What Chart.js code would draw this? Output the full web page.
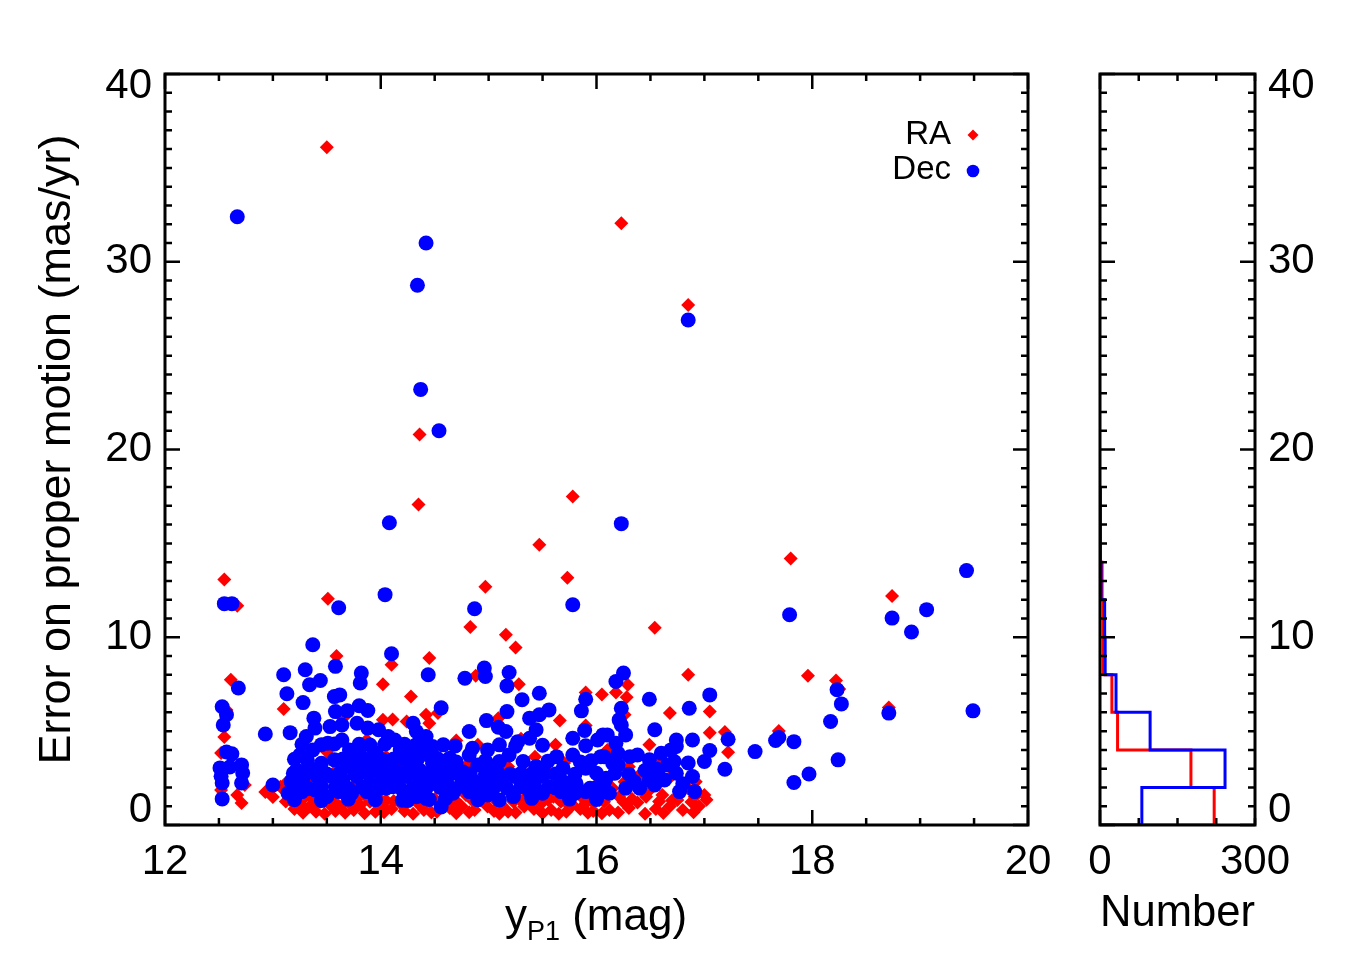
<!DOCTYPE html>
<html>
<head>
<meta charset="utf-8">
<script src="https://cdn.jsdelivr.net/npm/chart.js@4.4.0/dist/chart.umd.min.js"></script>
<style>
  body { margin: 0; background: #fff; width: 1350px; height: 975px; position: relative; overflow: hidden;
         font-family: 'Liberation Sans', Arial, sans-serif; }
  #main { position: absolute; left: 0; top: 0; }
  #hist { position: absolute; left: 1060px; top: 0; }
  #xtitle { position: absolute; left: 396px; width: 400px; top: 889px; text-align: center;
            font-size: 44px; line-height: 52px; color: #000; }
  #xtitle sub { font-size: 27px; vertical-align: baseline; position: relative; top: 10px; }
</style>
</head>
<body>
<canvas id="main" width="1090" height="975"></canvas>
<canvas id="hist" width="290" height="975"></canvas>
<div id="xtitle">y<sub>P1</sub> (mag)</div>
<script>
// RA errors vs y_P1 magnitude (red diamonds)
const raMag = [
  13.50, 16.23, 16.85, 14.36, 14.35, 15.78, 15.47, 15.73, 17.80, 12.55,
  13.51, 14.97, 18.74, 12.67, 14.83, 15.16, 15.25, 16.54, 13.59, 14.10,
  14.45, 14.02, 16.85, 17.96, 18.22, 18.25, 12.61, 18.71, 17.69, 17.19,
  17.22, 17.05, 16.68, 17.05, 16.29, 16.18, 16.05, 16.28, 15.90, 14.88,
  15.28, 15.09, 15.66, 15.90, 15.62, 15.55, 16.49, 16.40, 16.26, 16.26,
  14.28, 13.10, 14.02, 14.11, 14.24, 14.42, 14.45, 14.53, 12.55, 12.52,
  12.52, 12.74, 12.67, 12.71, 12.57, 12.93, 13.00, 13.13, 13.07, 14.02,
  13.96, 14.05, 13.87, 13.65, 15.55, 15.18, 15.43, 14.90, 13.16, 13.25,
  13.34, 13.44, 13.53, 13.62, 13.71, 13.81, 13.90, 13.98, 14.18, 14.27,
  14.36, 14.45, 14.58, 14.69, 14.79, 14.87, 14.99, 15.12, 15.23, 15.33,
  15.35, 15.49, 15.67, 15.78, 15.86, 15.90, 16.03, 16.07, 16.15, 16.21,
  16.46, 16.61, 16.75, 16.91, 17.00, 16.69, 16.92, 13.20, 13.40, 13.58,
  13.75, 13.95, 14.10, 14.22, 14.40, 14.52, 14.64, 14.75, 14.93, 15.05,
  15.18, 15.28, 15.42, 15.58, 15.72, 15.85, 15.97, 16.12, 16.30, 16.38,
  16.55, 16.68, 16.80, 16.95, 13.30, 13.50, 13.68, 13.85, 14.05, 14.33,
  14.60, 15.00, 15.60, 16.00, 16.50, 16.85, 13.35, 13.60, 13.90, 14.20,
  14.50, 14.80, 15.10, 15.40, 15.70, 16.00, 16.30, 16.60, 13.50, 14.00,
  14.70, 15.30, 16.10, 13.25, 13.75, 14.35, 14.95, 15.55, 16.45, 13.28,
  13.48, 13.67, 13.85, 14.03, 14.30, 14.47, 14.70, 14.82, 15.10, 15.25,
  15.50, 15.65, 15.92, 16.05, 16.20, 16.45, 16.62, 16.90, 13.12, 13.38,
  13.58, 13.77, 14.12, 14.50, 14.65, 14.85, 15.05, 15.40, 15.55, 15.72,
  15.95, 16.25, 16.33, 16.58, 16.70, 16.88, 17.02
];
const raErr = [
  36.10, 32.05, 27.70, 20.80, 17.07, 17.50, 14.93, 13.17, 14.19, 13.07,
  12.05, 12.69, 12.20, 11.68, 10.54, 10.13,  9.45, 10.50,  9.00,  8.53,
   8.89,  7.50,  8.00,  7.95,  7.70,  7.24,  7.73,  6.26,  5.01,  4.95,
   3.88,  6.04,  5.96,  4.92,  7.47,  7.06,  6.95,  6.80,  7.06,  7.95,
   7.50,  5.69,  5.56,  5.30,  4.27,  2.80,  4.27,  2.67,  2.31,  5.87,
   6.84,  6.18,  5.60,  5.62,  5.51,  5.87,  5.42,  5.97,  4.69,  3.84,
   1.87,  2.13,  1.60,  1.17,  6.13,  1.76,  1.49,  2.29,  2.04,  0.98,
   2.40,  3.64,  4.53,  5.69,  3.38,  3.11,  3.64,  4.27,  1.33,  1.16,
   0.98,  1.24,  1.07,  0.98,  1.16,  1.07,  1.24,  1.45,  1.16,  1.33,
   1.07,  1.24,  1.16,  1.33,  1.60,  0.80,  0.98,  1.07,  1.24,  0.98,
   1.51,  1.16,  1.24,  1.07,  1.51,  1.16,  1.33,  1.24,  1.96,  1.51,
   1.51,  1.60,  1.33,  1.51,  1.60,  2.58,  2.31,  0.85,  0.70,  0.75,
   0.80,  0.70,  0.85,  0.75,  0.80,  0.70,  0.90,  1.00,  1.30,  0.75,
   0.70,  1.40,  0.85,  0.80,  0.70,  0.85,  0.75,  0.80,  0.90,  1.20,
   0.85,  1.00,  0.80,  1.00,  1.50,  1.60,  1.45,  1.60,  1.30,  1.60,
   1.55,  1.55,  1.50,  1.70,  1.90,  1.95,  2.60,  3.00,  2.80,  3.30,
   2.70,  3.20,  2.50,  2.90,  3.30,  2.60,  3.10,  3.50,  3.90,  4.20,
   4.50,  4.60,  4.00,  2.20,  2.10,  2.20,  2.10,  2.20,  2.30,  0.65,
   0.60,  0.65,  0.62,  0.68,  0.60,  0.66,  0.62,  0.68,  0.60,  0.66,
   0.62,  0.60,  0.65,  0.62,  0.66,  0.60,  0.64,  0.68,  1.25,  1.30,
   1.20,  1.35,  1.28,  1.38,  1.22,  1.30,  1.40,  1.25,  1.35,  1.20,
   1.30,  1.22,  1.38,  1.25,  1.30,  1.22,  1.35
];

// Dec errors vs y_P1 magnitude (blue circles)
const decMag = [
  12.67, 14.42, 14.34, 16.85, 14.37, 14.54, 14.08, 16.23, 19.43, 14.04,
  13.61, 12.55, 12.62, 14.87, 15.78, 17.79, 18.74, 18.92, 19.06, 13.37,
  14.10, 13.58, 13.10, 13.30, 13.34, 13.44, 13.82, 13.81, 14.44, 13.13,
  13.28, 13.57, 13.62, 12.93, 13.16, 13.00, 13.58, 13.69, 13.80, 13.88,
  13.38, 12.68, 12.53, 12.57, 12.54, 12.57, 12.62, 12.71, 12.72, 12.51,
  12.60, 12.53, 12.71, 12.53, 12.52, 14.56, 14.56, 13.31, 13.39, 13.53,
  13.64, 13.78, 13.88, 13.98, 14.07, 14.13, 14.30, 14.33, 14.42, 14.39,
  14.48, 13.25, 13.37, 13.51, 13.64, 13.71, 13.81, 13.96, 14.18, 14.28,
  14.44, 13.22, 13.33, 13.45, 13.57, 13.70, 13.82, 13.94, 14.05, 14.15,
  14.27, 14.36, 14.48, 13.17, 13.28, 13.42, 13.54, 13.65, 13.78, 13.90,
  14.01, 14.11, 14.24, 14.36, 14.48, 13.14, 13.27, 13.39, 13.50, 13.61,
  13.73, 13.87, 13.99, 14.11, 14.21, 14.33, 14.42, 13.95, 14.25, 14.78,
  14.96, 14.97, 15.19, 15.17, 15.47, 15.31, 15.90, 15.86, 15.17, 15.38,
  15.47, 15.56, 14.98, 14.82, 15.09, 15.16, 15.38, 15.44, 15.89, 15.78,
  16.01, 16.06, 15.27, 14.58, 14.69, 14.85, 14.99, 15.10, 15.19, 14.52,
  14.64, 14.82, 15.63, 15.78, 16.04, 15.32, 15.44, 14.52, 14.64, 14.76,
  14.90, 15.03, 15.69, 15.90, 16.00, 14.49, 14.61, 14.75, 14.87, 15.01,
  15.12, 15.24, 15.35, 15.47, 15.56, 15.69, 15.81, 15.94, 16.07, 14.67,
  14.82, 14.99, 15.10, 15.23, 15.38, 15.50, 15.67, 15.80, 15.90, 16.03,
  16.25, 16.18, 16.49, 16.86, 17.05, 16.23, 16.21, 16.54, 16.10, 16.27,
  16.74, 16.89, 17.22, 17.05, 17.00, 17.19, 16.07, 16.20, 16.31, 16.38,
  16.49, 16.60, 16.69, 16.74, 16.66, 16.72, 16.74, 16.57, 16.63, 16.49,
  16.54, 16.27, 16.40, 16.09, 16.17, 16.06, 16.12, 16.77, 16.91, 16.89,
  16.23, 16.18, 16.15, 18.23, 18.27, 18.17, 18.71, 19.49, 17.47, 17.66,
  17.69, 17.83, 18.24, 17.83, 17.97, 13.20, 13.45, 13.70, 14.20, 14.45,
  13.22, 13.33, 13.45, 13.58, 13.70, 13.83, 13.95, 14.05, 14.17, 14.30,
  14.42, 13.19, 13.30, 13.40, 13.50, 13.62, 13.76, 13.88, 14.00, 14.10,
  14.21, 14.32, 14.43, 13.20, 13.32, 13.65, 13.77, 13.89, 14.02, 14.12,
  14.22, 14.34, 13.27, 13.45, 13.57, 13.80, 13.90, 14.04, 14.22, 14.33,
  14.60, 14.90, 15.40, 15.75, 16.00, 14.55, 14.70, 14.93, 15.05, 15.17,
  15.30, 15.43, 15.62, 15.75, 16.00, 14.58, 14.70, 14.83, 14.97, 15.09,
  15.20, 15.30, 15.40, 15.52, 15.62, 15.80, 14.58, 14.70, 14.97, 15.10,
  15.55, 15.85, 15.95, 15.25, 15.50, 15.90, 16.35, 16.45, 16.30, 16.80,
  16.55, 16.85, 16.20
];
const decErr = [
  32.40, 31.00, 28.75, 26.90, 23.20, 21.00, 16.10, 16.05, 13.55, 12.27,
  11.57, 11.79, 11.79, 11.52, 11.73, 11.20, 11.02, 10.28, 11.47,  9.60,
   9.12,  8.45,  8.00,  8.27,  7.47,  7.70,  8.09,  7.56,  8.00,  6.99,
   6.52,  6.84,  6.93,  4.85,  4.92,  2.13,  6.04,  6.08,  6.35,  6.10,
   5.69,  7.30,  6.30,  5.87,  5.33,  3.89,  3.79,  3.20,  2.77,  3.04,
   3.09,  2.24,  2.24,  1.39,  2.60,  6.24,  0.96,  4.71,  5.16,  5.24,
   5.33,  5.42,  5.16,  5.07,  4.71,  4.53,  5.42,  4.98,  4.71,  4.18,
   4.18,  3.73,  4.00,  4.36,  4.53,  4.00,  3.73,  3.82,  4.00,  4.00,
   3.73,  2.93,  3.11,  3.29,  3.47,  3.11,  3.20,  3.02,  3.11,  2.84,
   3.02,  2.93,  3.29,  2.31,  2.40,  2.49,  2.58,  2.40,  2.58,  2.22,
   2.40,  2.49,  2.58,  2.22,  2.40,  1.69,  1.78,  1.87,  1.51,  1.78,
   1.69,  1.78,  1.96,  2.04,  1.78,  1.51,  1.42,  1.35,  1.30,  7.82,
   8.36,  7.91,  8.12,  7.41,  7.02,  6.67,  6.70,  6.08,  6.04,  5.69,
   5.87,  6.13,  5.56,  4.98,  5.21,  4.98,  4.62,  5.07,  5.03,  4.62,
   4.53,  4.80,  4.44,  4.27,  4.21,  4.09,  4.00,  4.27,  3.73,  3.56,
   3.56,  3.73,  3.64,  3.73,  3.64,  3.38,  3.11,  2.84,  3.02,  2.84,
   3.20,  3.11,  3.02,  3.02,  2.76,  2.22,  2.31,  2.22,  2.31,  2.49,
   2.40,  2.58,  2.31,  2.58,  2.04,  2.31,  2.22,  1.96,  2.22,  1.69,
   1.78,  1.60,  1.33,  1.51,  1.78,  1.69,  1.78,  1.69,  1.78,  1.69,
   8.09,  7.64,  6.70,  6.22,  6.93,  6.22,  5.60,  5.07,  4.80,  4.80,
   4.53,  4.53,  4.57,  3.97,  3.38,  2.97,  3.64,  3.82,  3.64,  3.73,
   3.47,  3.82,  4.00,  4.18,  3.20,  3.38,  2.76,  2.76,  2.40,  2.40,
   2.13,  1.96,  1.96,  2.49,  2.76,  1.87,  1.69,  1.78,  1.78,  2.58,
   5.33,  4.36,  3.29,  7.20,  6.45,  5.51,  5.96,  6.08,  3.91,  4.50,
   4.66,  4.44,  3.47,  2.26,  2.72,  1.35,  1.30,  1.38,  1.32,  1.36,
   2.00,  1.95,  2.05,  2.00,  1.95,  2.02,  2.00,  1.96,  2.04,  2.00,
   1.95,  2.75,  2.70,  2.78,  2.72,  2.75,  2.70,  2.78,  2.72,  2.75,
   2.70,  2.76,  2.72,  3.50,  3.45,  3.52,  3.48,  3.50,  3.46,  3.52,
   3.48,  3.50,  4.30,  4.28,  4.32,  4.30,  4.26,  4.32,  4.30,  4.28,
   1.40,  1.35,  1.42,  1.38,  1.36,  2.00,  1.95,  2.02,  2.00,  1.96,
   2.04,  2.00,  1.98,  2.02,  2.00,  2.70,  2.75,  2.72,  2.70,  2.76,
   2.72,  2.74,  2.70,  2.76,  2.72,  2.70,  3.40,  3.35,  3.42,  3.38,
   3.40,  3.36,  3.42,  4.20,  4.25,  4.22,  2.30,  2.90,  2.70,  2.20,
   3.00,  3.30,  3.20
];

// histogram of the errors (bins of 2 mas/yr)
const binEdges = [0, 2, 4, 6, 8, 10, 12, 14, 16, 18];
const raCounts = [221, 176, 34, 23, 6, 6, 4, 1, 1];
const decCounts = [81, 242, 97, 31, 10, 9, 2, 1, 1];

const RED = '#ff0000';
const BLUE = '#0000ff';
Chart.defaults.font.family = "'Liberation Sans', Arial, sans-serif";
Chart.defaults.color = '#000';

function toPoints(xs, ys) {
  return xs.map((x, i) => ({ x: x, y: ys[i] }));
}

// IDL style histogram outline
function stepLine(edges, counts) {
  const pts = [{ x: 0, y: edges[0] }];
  counts.forEach((c, i) => {
    pts.push({ x: c, y: edges[i] });
    pts.push({ x: c, y: edges[i + 1] });
  });
  pts.push({ x: 0, y: edges[edges.length - 1] });
  return pts;
}

function tickMarks(min, max, step, majorStep) {
  const out = [];
  const n = Math.round((max - min) / step);
  for (let i = 0; i <= n; i++) {
    const v = min + i * step;
    const r = v / majorStep;
    out.push([v, Math.abs(r - Math.round(r)) < 1e-6]);
  }
  return out;
}

// box with inward ticks on all four sides
const boxPlugin = {
  id: 'idlBox',
  afterDraw(chart, args, opts) {
    const { ctx, chartArea: a, scales } = chart;
    const x = scales.x, y = scales.y;
    ctx.save();
    ctx.strokeStyle = '#000';
    ctx.lineWidth = 2.5;
    ctx.beginPath();
    opts.xTicks.forEach(([v, major]) => {
      const px = x.getPixelForValue(v);
      const len = major ? opts.majorLen : opts.minorLen;
      ctx.moveTo(px, a.bottom); ctx.lineTo(px, a.bottom - len);
      ctx.moveTo(px, a.top); ctx.lineTo(px, a.top + len);
    });
    opts.yTicks.forEach(([v, major]) => {
      const py = y.getPixelForValue(v);
      const len = major ? opts.majorLen : opts.minorLen;
      ctx.moveTo(a.left, py); ctx.lineTo(a.left + len, py);
      ctx.moveTo(a.right, py); ctx.lineTo(a.right - len, py);
    });
    ctx.stroke();
    ctx.lineWidth = 3;
    ctx.strokeRect(a.left, a.top, a.right - a.left, a.bottom - a.top);
    ctx.restore();
  }
};

// keep the end labels of the y axis inside the box, like IDL does
const endLabelPlugin = {
  id: 'endLabels',
  beforeDraw(chart) {
    const items = chart.scales.y.getLabelItems();
    if (!items.length || items[0].shifted) return;
    items[0].shifted = true;
    items[0].options.translation[1] -= 15;
    items[items.length - 1].options.translation[1] += 12;
  }
};

// legend in the upper right corner, text left of the symbol
const legendPlugin = {
  id: 'innerLegend',
  afterDraw(chart) {
    const { ctx, chartArea: a } = chart;
    const mx = a.right - 55;
    ctx.save();
    ctx.font = "33px 'Liberation Sans', Arial, sans-serif";
    ctx.fillStyle = '#000';
    ctx.textAlign = 'right';
    ctx.textBaseline = 'middle';
    ctx.fillText('RA', a.right - 77, a.top + 61);
    ctx.fillText('Dec', a.right - 77, a.top + 96);
    ctx.fillStyle = RED;
    const r = 5.5, cy = a.top + 61;
    ctx.beginPath();
    ctx.moveTo(mx - r, cy); ctx.lineTo(mx, cy - r); ctx.lineTo(mx + r, cy); ctx.lineTo(mx, cy + r);
    ctx.closePath(); ctx.fill();
    ctx.fillStyle = BLUE;
    ctx.beginPath();
    ctx.arc(mx, a.top + 97, 6.3, 0, Math.PI * 2);
    ctx.fill();
    ctx.restore();
  }
};

const tickFont = { size: 42 };

new Chart(document.getElementById('main').getContext('2d'), {
  type: 'scatter',
  data: {
    datasets: [{
      label: 'RA',
      data: toPoints(raMag, raErr),
      pointStyle: 'rectRot',
      pointRadius: 7,
      pointBorderWidth: 0,
      backgroundColor: RED,
      borderColor: RED,
      order: 1
    }, {
      label: 'Dec',
      data: toPoints(decMag, decErr),
      pointStyle: 'circle',
      pointRadius: 7.5,
      pointBorderWidth: 0,
      backgroundColor: BLUE,
      borderColor: BLUE,
      order: 0
    }]
  },
  options: {
    responsive: false,
    devicePixelRatio: 1,
    animation: false,
    layout: { padding: { top: 74, right: 62, left: 0, bottom: 0 } },
    plugins: {
      legend: { display: false },
      tooltip: { enabled: false },
      idlBox: {
        xTicks: tickMarks(12, 20, 0.5, 2),
        yTicks: tickMarks(0, 40, 1, 10),
        majorLen: 15, minorLen: 7
      }
    },
    scales: {
      x: {
        type: 'linear', min: 12, max: 20,
        grid: { display: false, drawTicks: false },
        border: { display: false },
        ticks: { stepSize: 2, padding: 12, font: tickFont, autoSkip: false, maxRotation: 0 },
        afterFit: s => { s.height = 150; }
      },
      y: {
        type: 'linear', min: 0, max: 40,
        grid: { display: false, drawTicks: false },
        border: { display: false },
        ticks: { stepSize: 10, padding: 13, font: tickFont, autoSkip: false },
        title: {
          display: true,
          text: 'Error on proper motion (mas/yr)',
          font: { size: 45 },
          padding: { top: 31, bottom: 0 }
        },
        afterFit: s => { s.width = 165; }
      }
    }
  },
  plugins: [endLabelPlugin, boxPlugin, legendPlugin]
});

new Chart(document.getElementById('hist').getContext('2d'), {
  type: 'scatter',
  data: {
    datasets: [{
      label: 'RA',
      data: stepLine(binEdges, raCounts),
      showLine: true,
      borderColor: RED,
      borderWidth: 3,
      pointRadius: 0,
      order: 1
    }, {
      label: 'Dec',
      data: stepLine(binEdges, decCounts),
      showLine: true,
      borderColor: BLUE,
      borderWidth: 3,
      pointRadius: 0,
      order: 0
    }]
  },
  options: {
    responsive: false,
    devicePixelRatio: 1,
    animation: false,
    layout: { padding: { top: 74, right: 0, left: 40, bottom: 0 } },
    plugins: {
      legend: { display: false },
      tooltip: { enabled: false },
      idlBox: {
        xTicks: tickMarks(0, 300, 75, 1000),
        yTicks: tickMarks(0, 40, 1, 10),
        majorLen: 15, minorLen: 7
      }
    },
    scales: {
      x: {
        type: 'linear', min: 0, max: 300,
        grid: { display: false, drawTicks: false },
        border: { display: false },
        ticks: { padding: 12, font: tickFont, autoSkip: false, maxRotation: 0 },
        afterBuildTicks: s => { s.ticks = [{ value: 0 }, { value: 300 }]; },
        title: { display: true, text: 'Number', font: { size: 44 }, padding: { top: 0, bottom: 35 } },
        afterFit: s => { s.height = 150; }
      },
      y: {
        type: 'linear', min: 0, max: 40, position: 'right',
        grid: { display: false, drawTicks: false },
        border: { display: false },
        ticks: { stepSize: 10, padding: 13, font: tickFont, autoSkip: false },
        afterFit: s => { s.width = 95; }
      }
    }
  },
  plugins: [endLabelPlugin, boxPlugin]
});
</script>
</body>
</html>
